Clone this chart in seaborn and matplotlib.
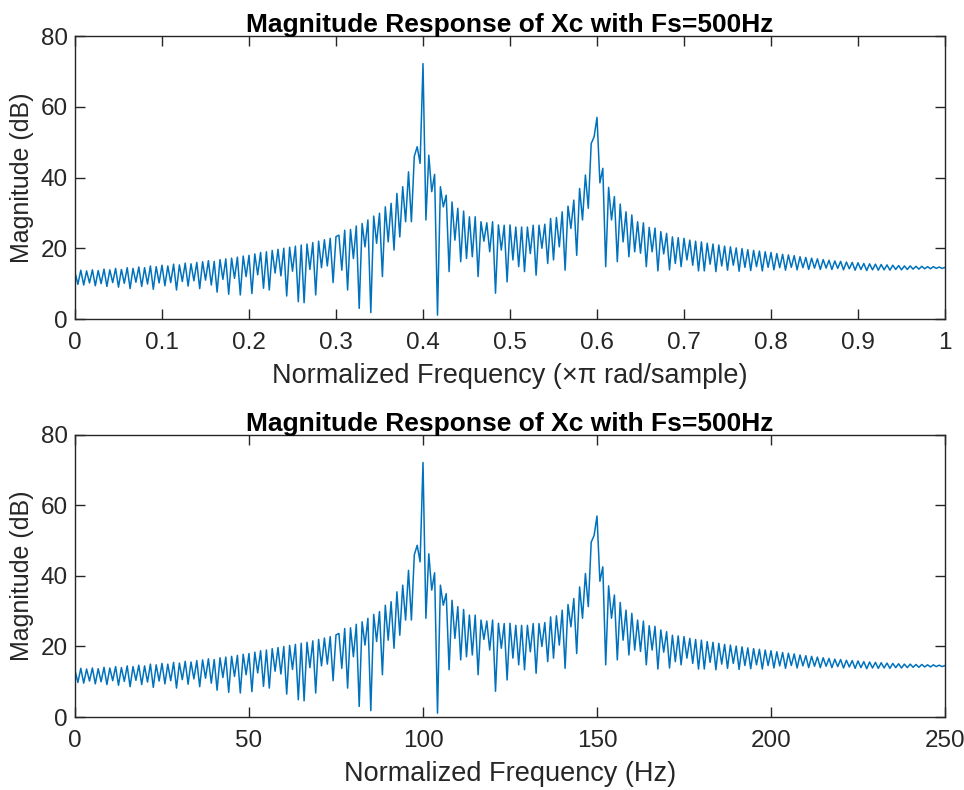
import numpy as np
import pandas as pd
import matplotlib
matplotlib.use("Agg")
import matplotlib.pyplot as plt
import seaborn as sns

# Magnitude (dB), alternating ripple extremes,
# one value per 1/300 step of normalized frequency (0 .. 1)
mag_db = [
    # 0.00 - 0.10
    13.2, 9.8, 13.8, 9.6, 13.6, 10.2, 13.9, 9.4, 13.7, 10.0,
    14.1, 9.2, 13.9, 10.3, 14.3, 9.0, 14.0, 10.1, 14.5, 8.6,
    14.3, 10.4, 14.7, 9.2, 14.5, 9.9, 15.0, 8.4, 14.8, 10.2,
    # 0.10 - 0.20
    15.2, 9.4, 15.0, 10.3, 15.5, 8.2, 15.3, 10.6, 15.8, 9.3,
    15.6, 10.8, 16.0, 8.6, 16.2, 11.0, 16.5, 9.6, 16.3, 7.6,
    16.8, 11.2, 17.0, 7.0, 17.2, 11.5, 17.5, 6.8, 17.8, 12.0,
    # 0.20 - 0.30
    18.0, 7.2, 18.4, 12.5, 18.8, 8.7, 19.0, 8.2, 19.4, 13.0,
    19.7, 12.2, 20.0, 6.5, 20.3, 13.5, 20.6, 4.9, 20.9, 4.6,
    21.2, 14.0, 21.6, 6.8, 22.0, 14.5, 22.4, 15.0, 22.8, 10.3,
    # 0.30 - 0.40
    23.3, 23.7, 13.8, 25.1, 8.2, 25.3, 17.1, 26.3, 3.0, 27.0,
    20.4, 28.0, 1.8, 29.1, 21.4, 29.9, 12.0, 31.7, 21.8, 32.7,
    19.5, 35.5, 23.2, 37.4, 27.5, 41.6, 27.5, 46.0, 48.7, 44.0,
    # 0.40 - 0.50
    72.2, 28.0, 46.3, 36.0, 40.9, 1.1, 37.4, 31.7, 35.0, 13.4,
    33.1, 22.3, 31.3, 16.2, 30.5, 17.1, 28.9, 17.6, 28.9, 12.0,
    27.5, 22.0, 27.2, 19.0, 27.5, 7.3, 26.6, 19.5, 26.5, 10.5,
    # 0.50 - 0.60
    26.6, 16.7, 26.0, 14.8, 26.0, 13.4, 26.0, 18.5, 26.5, 12.4,
    26.5, 20.0, 26.8, 15.7, 28.4, 16.7, 28.7, 20.4, 30.3, 13.8,
    31.9, 25.6, 33.6, 18.0, 36.9, 28.0, 40.7, 31.3, 49.6, 51.5,
    # 0.60 - 0.70
    57.0, 38.5, 42.6, 14.8, 37.2, 28.0, 34.6, 16.2, 32.5, 21.8,
    30.3, 17.6, 29.4, 19.0, 27.5, 18.6, 27.2, 14.8, 25.9, 19.0,
    25.7, 13.6, 24.7, 18.4, 24.2, 13.9, 23.2, 15.7, 23.0, 14.8,
    # 0.70 - 0.80
    22.8, 16.7, 22.3, 15.2, 22.0, 13.6, 21.8, 13.6, 21.4, 15.5,
    21.2, 13.4, 20.9, 15.0, 20.6, 13.8, 20.4, 15.2, 20.1, 13.5,
    19.9, 14.6, 19.6, 13.7, 19.4, 14.8, 19.2, 13.6, 19.0, 14.6,
    # 0.80 - 0.90
    18.8, 13.9, 18.5, 14.5, 18.3, 13.8, 18.1, 14.6, 17.9, 13.9,
    17.6, 14.5, 17.4, 14.0, 17.2, 14.4, 17.0, 14.0, 16.8, 14.4,
    16.6, 14.0, 16.4, 14.3, 16.3, 13.9, 16.1, 14.2, 16.0, 13.8,
    # 0.90 - 1.00
    15.9, 14.0, 15.7, 13.7, 15.6, 13.9, 15.5, 13.8, 15.4, 13.9,
    15.3, 13.8, 15.2, 14.0, 15.1, 13.9, 15.0, 14.0, 15.0, 14.1,
    14.9, 14.1, 14.9, 14.2, 14.8, 14.2, 14.8, 14.3, 14.7, 14.3,
    14.6,
]

fs_hz = 500
title_text = "Magnitude Response of Xc with Fs=500Hz"
xlabel_top = "Normalized Frequency (\u00d7\u03c0 rad/sample)"
xlabel_bottom = "Normalized Frequency (Hz)"
ylabel_text = "Magnitude (dB)"
xticks_top = [0, 0.1, 0.2, 0.3, 0.4, 0.5, 0.6, 0.7, 0.8, 0.9, 1]
xticklabels_top = ["0", "0.1", "0.2", "0.3", "0.4", "0.5", "0.6", "0.7", "0.8", "0.9", "1"]
xticks_bottom = [0, 50, 100, 150, 200, 250]
yticks = [0, 20, 40, 60, 80]

freq_norm = np.linspace(0, 1, len(mag_db))
df = pd.DataFrame({"w": freq_norm, "hz": freq_norm * fs_hz / 2, "mag": mag_db})

sns.set_style("ticks")
plt.rcParams["font.family"] = ["Liberation Sans", "DejaVu Sans"]

fig = plt.figure(figsize=(9.64, 7.90), dpi=100)
ax1 = fig.add_axes([0.0778, 0.5962, 0.9025, 0.3582])
ax2 = fig.add_axes([0.0778, 0.0924, 0.9025, 0.3570])

line_color = "#0072BD"
axis_color = "#262626"

for ax, xcol, xl, xt, xlim in [
    (ax1, "w", xlabel_top, xticks_top, (0, 1)),
    (ax2, "hz", xlabel_bottom, xticks_bottom, (0, 250)),
]:
    sns.lineplot(data=df, x=xcol, y="mag", ax=ax, color=line_color,
                 linewidth=1.1, estimator=None, sort=False)
    ax.set_xlim(*xlim)
    ax.set_ylim(0, 80)
    ax.set_xticks(xt)
    ax.set_yticks(yticks)
    ax.set_title(title_text, fontsize=19, fontweight="bold", color="black", pad=3)
    ax.set_xlabel(xl, fontsize=19.5, color=axis_color, labelpad=7)
    ax.set_ylabel(ylabel_text, fontsize=18, color=axis_color, labelpad=5)
    ax.tick_params(direction="in", length=7, width=1.0, top=True, right=True,
                   labelsize=17.5, colors=axis_color, labelcolor=axis_color)
    ax.tick_params(axis="x", pad=9)
    ax.tick_params(axis="y", pad=5)
    for s in ax.spines.values():
        s.set_visible(True)
        s.set_color(axis_color)
        s.set_linewidth(1.0)

ax1.set_xticklabels(xticklabels_top)

fig.savefig("out.png", dpi=100, facecolor="white")
